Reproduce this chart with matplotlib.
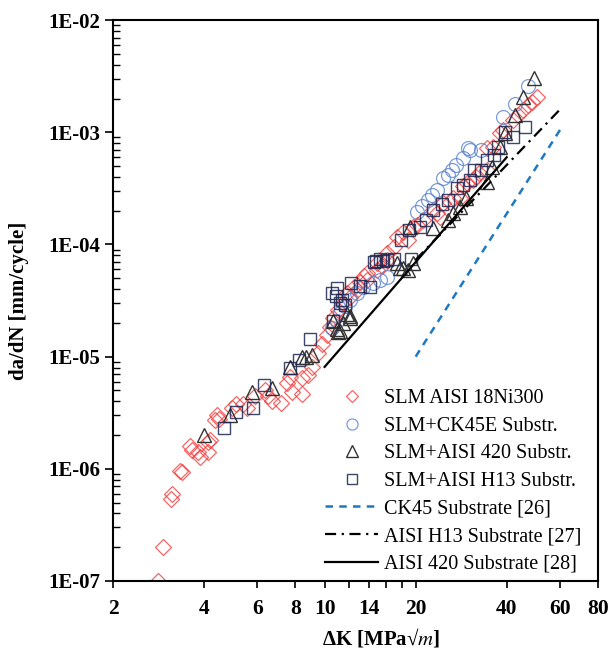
import numpy as np
import matplotlib
matplotlib.use("Agg")
import matplotlib.pyplot as plt
from matplotlib.ticker import FixedLocator, NullFormatter

plt.rcParams['font.family'] = ['Liberation Serif', 'DejaVu Serif']
plt.rcParams['mathtext.fontset'] = 'stix'

# SLM AISI 18Ni300
dk_ni = [2.82, 2.93, 3.11, 3.14, 3.33, 3.38, 3.59, 3.65, 3.82, 3.88, 4.12, 4.12, 4.18, 4.34,
         4.41, 4.48, 4.94, 5.1, 5.38, 5.55, 5.89, 6.35, 6.5, 6.72, 7.2, 7.5, 7.7, 7.8, 8.4, 8.4,
         8.8, 9.1, 9.5, 9.8, 10.2, 10.4, 10.7, 11.1, 11.5, 11.9, 12.1, 12.5, 12.8, 13.1, 13.5,
         13.8, 13.8, 14.9, 14.9, 15.5, 16.1, 16.1, 17.0, 17.3, 18.2, 18.9, 19.6, 20.2, 21.2,
         22.9, 23.5, 24.1, 24.6, 26.0, 26.6, 28.0, 28.6, 29.5, 30.9, 31.6, 32.5, 34.5, 34.5,
         36.1, 38.0, 38.9, 42.0, 43.7, 45.4, 47.0, 48.6, 50.4]
da_ni = [1.0e-7, 2.0e-7, 5.4e-7, 6.0e-7, 9.6e-7, 9.4e-7, 1.6e-6, 1.47e-6, 1.4e-6, 1.28e-6,
         1.42e-6, 1.75e-6, 1.8e-6, 2.72e-6, 3.0e-6, 2.8e-6, 3.5e-6, 3.8e-6, 3.8e-6, 3.5e-6,
         4.5e-6, 5.0e-6, 4.5e-6, 4.0e-6, 3.9e-6, 5.8e-6, 6.6e-6, 4.8e-6, 4.6e-6, 6.4e-6,
         6.9e-6, 8.1e-6, 1.08e-5, 1.3e-5, 1.55e-5, 1.85e-5, 2.2e-5, 2.6e-5, 3.0e-5, 3.7e-5,
         3.4e-5, 4.2e-5, 3.9e-5, 4.6e-5, 5.2e-5, 4.8e-5, 5.6e-5, 5.9e-5, 6.8e-5, 6.4e-5,
         7.3e-5, 8.4e-5, 9.5e-5, 1.16e-4, 1.29e-4, 1.1e-4, 1.42e-4, 1.5e-4, 1.65e-4, 2.03e-4,
         1.9e-4, 1.75e-4, 2.33e-4, 2.4e-4, 2.6e-4, 2.6e-4, 3.3e-4, 3.5e-4, 3.75e-4, 4.0e-4,
         4.3e-4, 4.6e-4, 7.2e-4, 7.4e-4, 9.8e-4, 1.05e-3, 1.29e-3, 1.42e-3, 1.58e-3, 1.75e-3,
         1.86e-3, 2.05e-3]

# SLM+CK45E Substr.
dk_ck = [47.0, 42.6, 39.0, 33.0, 30.2, 29.7, 28.6, 27.2, 26.4, 25.5, 24.6, 23.6, 22.7, 21.9,
         21.0, 20.2, 16.1, 15.2, 14.4, 13.4, 12.8, 12.1, 11.7, 11.25, 11.0, 10.6]
da_ck = [2.6e-3, 1.8e-3, 1.37e-3, 6.9e-4, 6.9e-4, 7.2e-4, 5.9e-4, 5.1e-4, 4.6e-4, 4.2e-4,
         3.9e-4, 3.05e-4, 2.75e-4, 2.5e-4, 2.2e-4, 1.95e-4, 5.1e-5, 4.8e-5, 4.5e-5, 4.2e-5,
         3.7e-5, 3.2e-5, 2.8e-5, 2.45e-5, 2.1e-5, 1.8e-5]

# SLM+AISI 420 Substr.
dk_420 = [3.98, 4.87, 5.75, 6.7, 7.7, 8.4, 8.7, 9.1, 10.7, 11.0, 11.1, 11.25, 11.5, 11.9,
          12.1, 12.1, 17.3, 17.7, 18.1, 18.8, 19.1, 19.6, 22.9, 25.5, 26.6, 28.0, 29.3, 34.5,
          35.7, 38.0, 39.5, 42.6, 45.4, 49.2]
da_420 = [2.0e-6, 3.0e-6, 4.8e-6, 5.3e-6, 8.1e-6, 9.9e-6, 9.9e-6, 1.04e-5, 2.1e-5, 1.75e-5,
          1.65e-5, 1.7e-5, 2.0e-5, 2.4e-5, 2.3e-5, 2.2e-5, 6.8e-5, 6.2e-5, 6.2e-5, 5.9e-5,
          1.42e-4, 6.8e-5, 1.4e-4, 1.65e-4, 1.9e-4, 2.15e-4, 2.6e-4, 3.6e-4, 4.9e-4, 7.4e-4,
          9.8e-4, 1.42e-3, 2.05e-3, 3.05e-3]

# SLM+AISI H13 Substr.
dk_h13 = [4.65, 5.1, 5.8, 6.3, 7.7, 8.2, 8.95, 10.6, 10.7, 10.9, 11.0, 11.25, 11.4, 11.7,
          12.2, 13.1, 14.1, 14.6, 14.8, 15.2, 15.6, 16.1, 16.9, 17.9, 19.0, 19.3, 20.7, 21.7,
          22.9, 24.5, 25.5, 27.5, 28.6, 30.2, 31.1, 33.0, 34.5, 36.4, 37.5, 39.5, 42.0, 46.0]
da_h13 = [2.3e-6, 3.2e-6, 3.5e-6, 5.6e-6, 7.9e-6, 9.3e-6, 1.45e-5, 3.7e-5, 2.1e-5, 3.5e-5,
          4.1e-5, 3.0e-5, 3.2e-5, 2.9e-5, 4.5e-5, 4.3e-5, 4.2e-5, 7.0e-5, 7.1e-5, 7.4e-5,
          7.1e-5, 7.3e-5, 7.5e-5, 1.09e-4, 1.34e-4, 7.5e-5, 1.42e-4, 1.65e-4, 2.03e-4, 2.3e-4,
          2.49e-4, 3.2e-4, 3.4e-4, 3.75e-4, 4.6e-4, 4.6e-4, 5.7e-4, 6.3e-4, 7.4e-4, 1.0e-3,
          9.1e-4, 1.11e-3]

# literature lines
dk_ck45_ref = [20, 60]
da_ck45_ref = [1.0e-5, 1.05e-3]
dk_h13_ref = [20, 60]
da_h13_ref = [7.3e-5, 1.6e-3]
dk_420_ref = [10, 40]
da_420_ref = [8.1e-6, 6.0e-4]

xticks = [2, 4, 6, 8, 10, 12, 14, 16, 18, 20, 40, 60, 80]
xlabels = ['2', '4', '6', '8', '10', '', '14', '', '', '20', '40', '60', '80']
yticks = [1e-7, 1e-6, 1e-5, 1e-4, 1e-3, 1e-2]
ylabels = ['1E-07', '1E-06', '1E-05', '1E-04', '1E-03', '1E-02']

fig = plt.figure(figsize=(6.15, 6.52), dpi=100)
ax = fig.add_axes([0.184, 0.109, 0.788, 0.860])

ax.plot(dk_ni, da_ni, 'D', ms=8, mfc='none', mec='#f04040', mew=0.9, alpha=0.8,
        label='SLM AISI 18Ni300')
ax.plot(dk_ck, da_ck, 'o', ms=10, mfc='none', mec='#5b84d0', mew=0.9, alpha=0.8,
        label='SLM+CK45E Substr.')
ax.plot(dk_420, da_420, '^', ms=10, mfc='none', mec='#333333', mew=1.0,
        label='SLM+AISI 420 Substr.')
ax.plot(dk_h13, da_h13, 's', ms=9, mfc='none', mec='#1c2550', mew=1.0, alpha=0.85,
        label='SLM+AISI H13 Substr.')
ax.plot(dk_ck45_ref, da_ck45_ref, '--', color='#1f78c4', lw=1.8, dashes=(3, 2.5),
        label='CK45 Substrate [26]')
ax.plot(dk_h13_ref, da_h13_ref, '-.', color='black', lw=1.6, dashes=(5, 2.5, 1, 2.5),
        label='AISI H13 Substrate [27]')
ax.plot(dk_420_ref, da_420_ref, '-', color='black', lw=1.6, label='AISI 420 Substrate [28]')

ax.set_xscale('log')
ax.set_yscale('log')
ax.set_xlim(2, 80)
ax.set_ylim(1e-7, 1e-2)

ax.xaxis.set_major_locator(FixedLocator(xticks))
ax.set_xticklabels(xlabels, fontsize=15.5, fontweight='bold')
ax.xaxis.set_minor_locator(FixedLocator([]))
ax.set_yticks(yticks)
ax.set_yticklabels(ylabels, fontsize=15, fontweight='bold')
ax.tick_params(axis='x', which='major', direction='out', length=5, width=1.2, pad=8)
ax.tick_params(axis='y', which='major', direction='out', length=6, width=1.2)
ax.tick_params(axis='y', which='minor', direction='in', length=5, width=1.0)
ax.yaxis.set_minor_formatter(NullFormatter())
for s in ax.spines.values():
    s.set_linewidth(1.5)

ax.set_xlabel(r'ΔK [MPa√$m$]', fontsize=15, fontweight='bold')
ax.xaxis.set_label_coords(0.553, -0.082)
ax.set_ylabel('da/dN [mm/cycle]', fontsize=15, fontweight='bold', labelpad=14)

leg = ax.legend(loc='lower right', bbox_to_anchor=(0.995, -0.012), frameon=False, fontsize=14.5,
                handlelength=2.6, labelspacing=0.42, handletextpad=0.3, markerscale=0.8,
                borderaxespad=0.3)

fig.savefig('out.png', dpi=100)
